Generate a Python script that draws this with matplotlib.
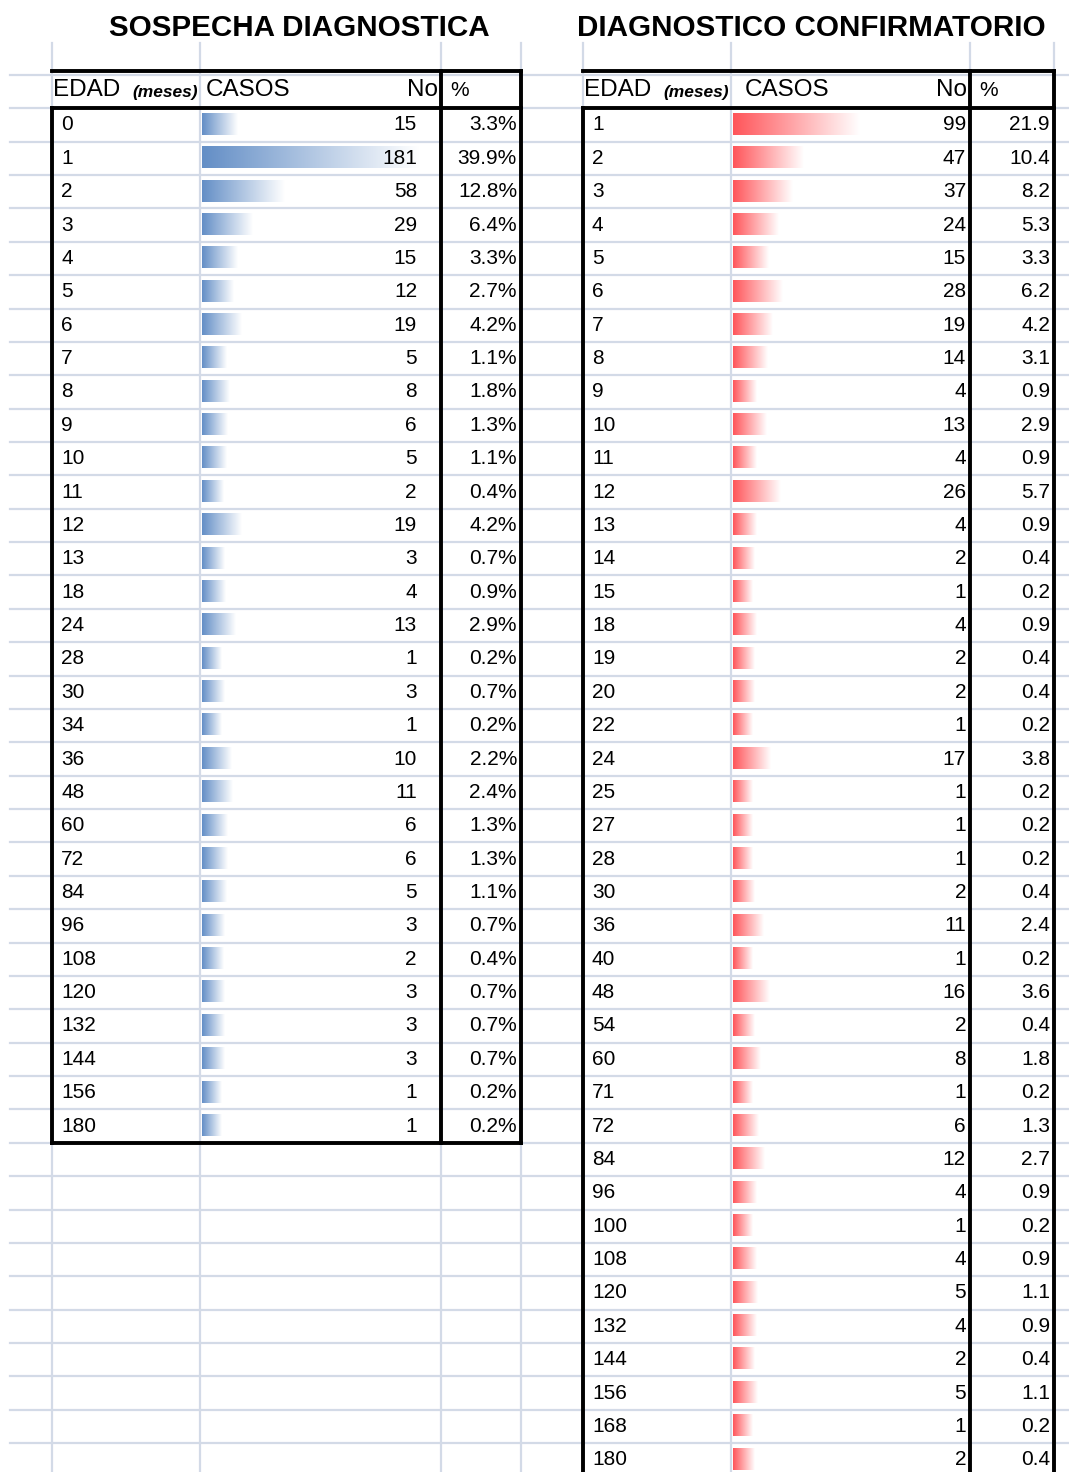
import matplotlib
matplotlib.use('Agg')
import matplotlib.pyplot as plt
import numpy as np
from matplotlib import font_manager
from matplotlib.colors import LinearSegmentedColormap
from matplotlib.patches import Rectangle

sospecha_edad = [0, 1, 2, 3, 4, 5, 6, 7, 8, 9, 10, 11, 12, 13, 18, 24, 28, 30, 34, 36,
                 48, 60, 72, 84, 96, 108, 120, 132, 144, 156, 180]
sospecha_casos = [15, 181, 58, 29, 15, 12, 19, 5, 8, 6, 5, 2, 19, 3, 4, 13, 1, 3, 1, 10,
                  11, 6, 6, 5, 3, 2, 3, 3, 3, 1, 1]
sospecha_pct = [3.3, 39.9, 12.8, 6.4, 3.3, 2.7, 4.2, 1.1, 1.8, 1.3, 1.1, 0.4, 4.2, 0.7, 0.9,
                2.9, 0.2, 0.7, 0.2, 2.2, 2.4, 1.3, 1.3, 1.1, 0.7, 0.4, 0.7, 0.7, 0.7, 0.2, 0.2]

confirm_edad = [1, 2, 3, 4, 5, 6, 7, 8, 9, 10, 11, 12, 13, 14, 15, 18, 19, 20, 22, 24, 25,
                27, 28, 30, 36, 40, 48, 54, 60, 71, 72, 84, 96, 100, 108, 120, 132, 144,
                156, 168, 180]
confirm_casos = [99, 47, 37, 24, 15, 28, 19, 14, 4, 13, 4, 26, 4, 2, 1, 4, 2, 2, 1, 17, 1,
                 1, 1, 2, 11, 1, 16, 2, 8, 1, 6, 12, 4, 1, 4, 5, 4, 2, 5, 1, 2]
confirm_pct = [21.9, 10.4, 8.2, 5.3, 3.3, 6.2, 4.2, 3.1, 0.9, 2.9, 0.9, 5.7, 0.9, 0.4, 0.2,
               0.9, 0.4, 0.4, 0.2, 3.8, 0.2, 0.2, 0.2, 0.4, 2.4, 0.2, 3.6, 0.4, 1.8, 0.2,
               1.3, 2.7, 0.9, 0.2, 0.9, 1.1, 0.9, 0.4, 1.1, 0.2, 0.4]

titles = ["SOSPECHA DIAGNOSTICA", "DIAGNOSTICO CONFIRMATORIO"]

# --- layout (pixels) ---
W, H = 1069, 1472
ROW_H = 33.37
FIRST_ROW = 108.3          # top of first data row
BAR_MIN_PX = 20            # excel data bar: shortest bar
PX_PER_CASE = 1.09
GRID_C = '#D3DAE7'

available = {f.name for f in font_manager.fontManager.ttflist}
CELL_FONT = 'Liberation Sans Narrow' if 'Liberation Sans Narrow' in available else 'Liberation Sans'

fig = plt.figure(figsize=(W / 100, H / 100), dpi=100)
ax = fig.add_axes([0, 0, 1, 1])
ax.set_xlim(0, W)
ax.set_ylim(H, 0)
ax.axis('off')

# spreadsheet grid
for y in np.arange(FIRST_ROW - ROW_H, H, ROW_H):
    ax.plot([10, W], [y, y], color=GRID_C, lw=1.6, zorder=1)
for x in [52, 200, 441, 521, 583, 731, 970, 1054]:
    ax.plot([x, x], [43, H], color=GRID_C, lw=1.6, zorder=1)


def draw_table(edad, casos, pct, cols, color, pct_sign, casos_lbl_x, num_right, title, title_x):
    x_left, x_casos, x_pct, x_right = cols
    cmap = LinearSegmentedColormap.from_list('bar', [color, '#FFFFFF'])
    grad = np.linspace(0, 1, 256).reshape(1, -1)
    n = len(edad)
    y_bottom = min(FIRST_ROW + n * ROW_H, H + 10)

    ax.text(title_x, 28, title, ha='center', va='center',
            fontsize=21.3, fontweight='bold', family='Liberation Sans', zorder=5)

    # header
    ax.text(x_left + 1, 90, "EDAD", ha='left', va='center', fontsize=17.5,
            family='Liberation Sans', zorder=5)
    t = ax.text(x_left + 80, 92, "(meses)", ha='left', va='center', fontsize=12.5,
                fontweight='bold', style='italic', family='Liberation Sans', zorder=5)
    t.set_clip_path(Rectangle((x_left, 70), x_casos - x_left - 2, 40, transform=ax.transData))
    ax.text(casos_lbl_x, 90, "CASOS", ha='left', va='center', fontsize=17.5,
            family='Liberation Sans', zorder=5)
    ax.text(x_pct - 3, 90, "No", ha='right', va='center', fontsize=17.5,
            family='Liberation Sans', zorder=5)
    ax.text(x_pct + 9, 90, "%", ha='left', va='center', fontsize=15,
            family='Liberation Sans', zorder=5)

    for i, (e, c, p) in enumerate(zip(edad, casos, pct)):
        top = FIRST_ROW + i * ROW_H
        yc = top + ROW_H / 2
        length = BAR_MIN_PX + (c - 1) * PX_PER_CASE
        ax.imshow(grad, cmap=cmap, aspect='auto', interpolation='bilinear',
                  extent=[x_casos + 2, x_casos + 2 + length, top + 26.5, top + 5], zorder=2)
        ax.text(x_left + 9, yc, str(e), ha='left', va='center', fontsize=15,
                family=CELL_FONT, zorder=5)
        ax.text(num_right, yc, str(c), ha='right', va='center', fontsize=15,
                family=CELL_FONT, zorder=5)
        ax.text(x_right - 4, yc, f"{p:.1f}" + pct_sign, ha='right', va='center',
                fontsize=15, family=CELL_FONT, zorder=5)

    # borders
    kw = dict(color='black', lw=2.8, zorder=6, solid_capstyle='projecting')
    ax.plot([x_left, x_right], [71, 71], **kw)
    ax.plot([x_left, x_right], [107.5, 107.5], **kw)
    ax.plot([x_left, x_left], [107.5, y_bottom], **kw)
    ax.plot([x_pct, x_pct], [71, y_bottom], **kw)
    ax.plot([x_right, x_right], [71, y_bottom], **kw)
    if y_bottom < H:
        ax.plot([x_left, x_right], [y_bottom, y_bottom], **kw)


draw_table(sospecha_edad, sospecha_casos, sospecha_pct, (52, 200, 441, 521),
           '#638EC6', '%', 206, 417, titles[0], 299)
draw_table(confirm_edad, confirm_casos, confirm_pct, (583, 731, 970, 1054),
           '#FF555A', '', 745, 966, titles[1], 811)

fig.savefig('out.png', dpi=100)
